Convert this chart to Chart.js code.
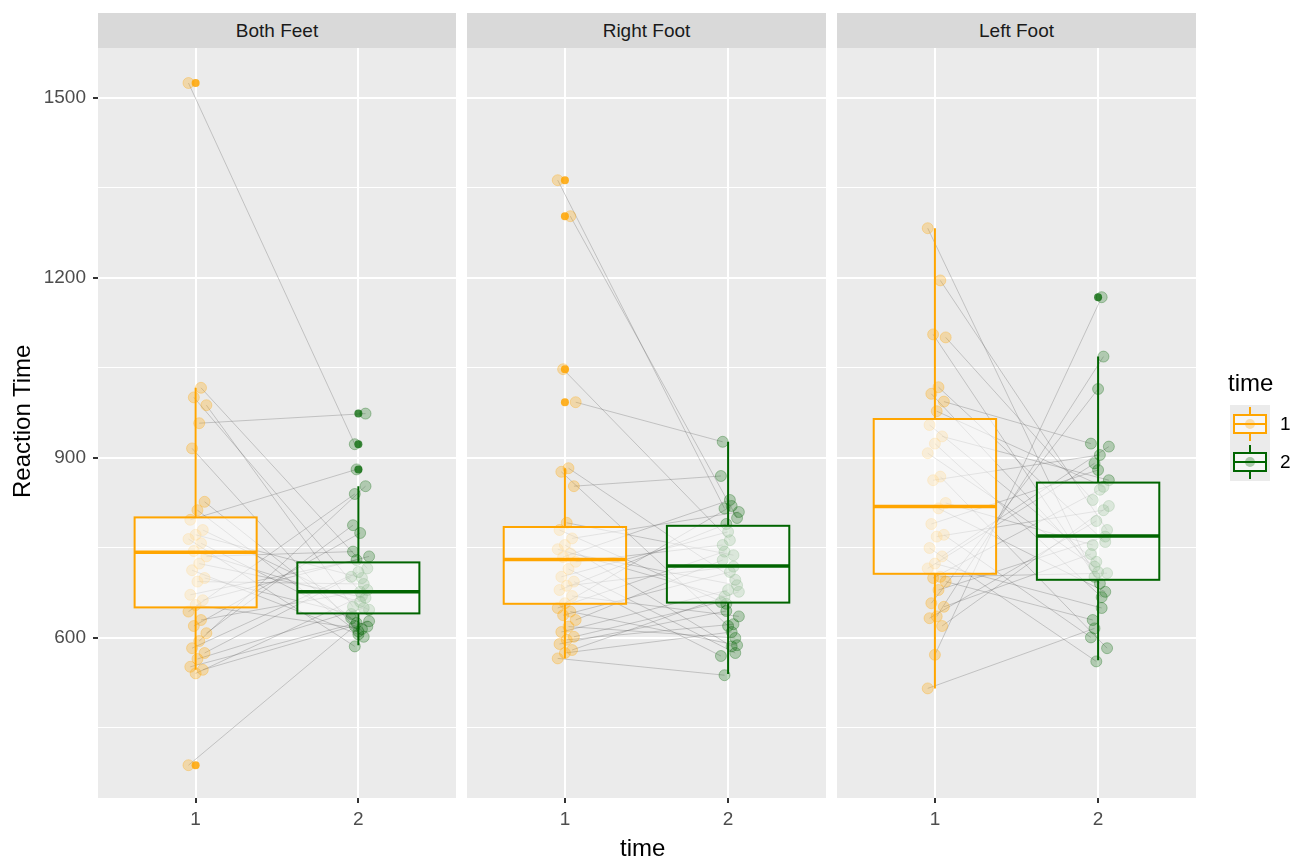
<!DOCTYPE html>
<html>
<head>
<meta charset="utf-8">
<script src="https://cdn.jsdelivr.net/npm/chart.js@4.4.1/dist/chart.umd.min.js"></script>
<style>
  body { margin: 0; background: #fff; width: 1303px; height: 861px; position: relative; overflow: hidden;
         font-family: 'Liberation Sans', Arial, sans-serif; }
  .strip { position: absolute; top: 13px; height: 35px; line-height: 35px; background: #d9d9d9;
           color: #1a1a1a; font-size: 19px; text-align: center; }
  canvas { position: absolute; top: 48px; }
  .title { position: absolute; font-size: 24px; color: #000; white-space: nowrap; }
  .lab { position: absolute; font-size: 19px; color: #000; }
</style>
</head>
<body>
<div class="strip" style="left:98px;width:358px">Both Feet</div>
<div class="strip" style="left:467px;width:359px">Right Foot</div>
<div class="strip" style="left:837px;width:359px">Left Foot</div>

<canvas id="c0" width="456" height="800" style="left:0px"></canvas>
<canvas id="c1" width="359" height="800" style="left:467px"></canvas>
<canvas id="c2" width="466" height="800" style="left:837px"></canvas>

<div class="title" style="left:-53px;top:409px;width:150px;text-align:center;transform:rotate(-90deg)">Reaction Time</div>
<div class="title" style="left:620px;top:834px">time</div>
<div class="title" style="left:1228px;top:369px">time</div>
<div class="lab" style="left:1280px;top:413px">1</div>
<div class="lab" style="left:1280px;top:451px">2</div>

<script>
// facets and groups
const panelNames = ['Both Feet', 'Right Foot', 'Left Foot'];
const timeLabels = ['1', '2'];

// paired reaction times (same index = same subject)
const bothT1 = [1525, 1017, 1001, 988, 958, 916, 827, 813, 797, 780, 772, 765, 758, 745, 736, 724, 713, 700, 694, 672, 663, 655, 644, 630, 620, 608, 595, 583, 575, 565, 552, 547, 541, 388];
const bothT2 = [923, 716, 677, 652, 974, 611, 633, 602, 881, 647, 700, 586, 619, 660, 744, 667, 606, 640, 690, 730, 736, 615, 840, 680, 775, 788, 853, 710, 702, 650, 625, 628, 670, 620];
const rightT1 = [1363, 1303, 1048, 993, 883, 877, 853, 792, 780, 766, 755, 748, 741, 735, 727, 715, 702, 694, 687, 680, 670, 658, 650, 644, 638, 630, 619, 610, 602, 597, 590, 580, 575, 566];
const rightT2 = [816, 800, 763, 927, 697, 620, 870, 738, 657, 810, 586, 669, 688, 830, 755, 575, 777, 570, 719, 790, 636, 820, 744, 588, 710, 730, 600, 680, 660, 623, 645, 677, 610, 538];
const leftT1 = [1283, 1196, 1106, 1101, 1018, 1007, 994, 978, 955, 936, 924, 908, 869, 863, 825, 816, 790, 772, 769, 750, 736, 724, 716, 702, 700, 694, 680, 658, 652, 636, 633, 620, 572, 516];
const leftT2 = [702, 780, 691, 830, 760, 710, 924, 852, 727, 863, 668, 719, 583, 905, 755, 677, 880, 601, 813, 561, 919, 650, 891, 708, 847, 630, 769, 1015, 740, 1069, 795, 820, 1168, 616];

// boxplot outliers per panel
const outT1 = [[1525, 388], [1363, 1303, 1048, 993], []];
const outT2 = [[974, 923, 881], [], [1168]];

// box stats per panel: [time1, time2]
const boxLow = [[547, 588], [566, 540], [516, 563]];
const boxQ1 = [[651, 641], [657, 659], [707, 697]];
const boxMed = [[743, 677], [731, 720], [819, 770]];
const boxQ3 = [[801, 726], [785, 787], [965, 859]];
const boxHigh = [[1017, 853], [883, 927], [1283, 1069]];

const yTicks = [450, 600, 750, 900, 1050, 1200, 1350, 1500];

const FONT = "'Liberation Sans', Arial, sans-serif";
const ORANGE = '#FFA500';
const GREEN = '#006400';

// small fixed horizontal jitter, in x units
function jit(k) {
    return ((k * 7) % 11 - 4) * 0.011;
}

// panel background
const panelBg = {
    id: 'panelBg',
    beforeDraw(chart) {
        const { ctx, chartArea: a } = chart;
        ctx.save();
        ctx.fillStyle = '#ebebeb';
        ctx.fillRect(a.left, a.top, a.right - a.left, a.bottom - a.top);
        ctx.restore();
    }
};

// boxplots drawn on top of points and lines
const boxes = {
    id: 'boxes',
    afterDatasetsDraw(chart, args, opts) {
        const p = opts.panel;
        const { ctx, scales: { x, y } } = chart;
        [ORANGE, GREEN].forEach((col, t) => {
            const cx = t + 1;
            const l = x.getPixelForValue(cx - 0.375);
            const r = x.getPixelForValue(cx + 0.375);
            const xm = x.getPixelForValue(cx);
            const q1 = y.getPixelForValue(boxQ1[p][t]);
            const q3 = y.getPixelForValue(boxQ3[p][t]);
            const md = y.getPixelForValue(boxMed[p][t]);
            const lo = y.getPixelForValue(boxLow[p][t]);
            const hi = y.getPixelForValue(boxHigh[p][t]);
            ctx.save();
            ctx.strokeStyle = col;
            ctx.lineWidth = 2;
            ctx.beginPath();
            ctx.moveTo(xm, hi); ctx.lineTo(xm, q3);
            ctx.moveTo(xm, q1); ctx.lineTo(xm, lo);
            ctx.stroke();
            ctx.fillStyle = 'rgba(255,255,255,0.55)';
            ctx.fillRect(l, q3, r - l, q1 - q3);
            ctx.strokeRect(l, q3, r - l, q1 - q3);
            ctx.lineWidth = 3.5;
            ctx.beginPath();
            ctx.moveTo(l, md); ctx.lineTo(r, md);
            ctx.stroke();
            ctx.restore();
        });
    }
};

// legend key glyphs (canvas of the third panel)
const legendKeys = {
    id: 'legendKeys',
    afterDraw(chart) {
        const ctx = chart.ctx;
        ctx.save();
        ctx.fillStyle = '#ebebeb';
        ctx.fillRect(393, 357, 40, 76);
        [[ORANGE, 376, 'rgba(255,165,0,0.3)'], [GREEN, 414, 'rgba(0,100,0,0.3)']].forEach(([col, cy, pc]) => {
            ctx.fillStyle = 'rgba(255,255,255,0.55)';
            ctx.fillRect(397, cy - 9, 32, 18);
            ctx.fillStyle = pc;
            ctx.beginPath(); ctx.arc(413, cy, 5, 0, Math.PI * 2); ctx.fill();
            ctx.strokeStyle = col;
            ctx.lineWidth = 2;
            ctx.strokeRect(397, cy - 9, 32, 18);
            ctx.beginPath();
            ctx.moveTo(413, cy - 17); ctx.lineTo(413, cy - 9);
            ctx.moveTo(413, cy + 9); ctx.lineTo(413, cy + 17);
            ctx.moveTo(397, cy); ctx.lineTo(429, cy);
            ctx.stroke();
        });
        ctx.restore();
    }
};

function makePanel(p, id, t1, t2) {
    const first = p === 0;
    const pairs = [];
    t1.forEach((v, k) => {
        pairs.push({ x: 1 + jit(k), y: v }, { x: 2 + jit(k + 5), y: t2[k] }, { x: 1.5, y: null });
    });
    const plugins = [panelBg, boxes];
    if (p === 2) plugins.push(legendKeys);

    new Chart(document.getElementById(id), {
        type: 'scatter',
        data: {
            datasets: [
                {
                    type: 'line', data: pairs, order: 4,
                    borderColor: 'rgba(95,95,95,0.3)', borderWidth: 1,
                    pointRadius: 0, spanGaps: false, tension: 0
                },
                {
                    label: timeLabels[0], data: t1.map((v, k) => ({ x: 1 + jit(k), y: v })), order: 3,
                    pointRadius: 5.5, backgroundColor: 'rgba(255,165,0,0.28)', borderColor: 'rgba(255,165,0,0.3)', borderWidth: 1
                },
                {
                    label: timeLabels[1], data: t2.map((v, k) => ({ x: 2 + jit(k + 5), y: v })), order: 2,
                    pointRadius: 5.5, backgroundColor: 'rgba(0,100,0,0.25)', borderColor: 'rgba(0,100,0,0.3)', borderWidth: 1
                },
                {
                    data: outT1[p].map(v => ({ x: 1, y: v })), order: 1,
                    pointRadius: 4, backgroundColor: 'rgba(255,165,0,0.85)', borderWidth: 0
                },
                {
                    data: outT2[p].map(v => ({ x: 2, y: v })), order: 1,
                    pointRadius: 4, backgroundColor: 'rgba(0,100,0,0.75)', borderWidth: 0
                }
            ]
        },
        options: {
            responsive: false,
            animation: false,
            devicePixelRatio: 1,
            events: [],
            layout: { autoPadding: false, padding: { left: 0, top: 0, bottom: 0, right: p === 2 ? 107 : 0 } },
            plugins: {
                legend: { display: false },
                tooltip: { enabled: false },
                boxes: { panel: p }
            },
            scales: {
                x: {
                    type: 'linear', min: 0.4, max: 2.6,
                    afterBuildTicks: s => { s.ticks = [{ value: 1 }, { value: 2 }]; },
                    afterFit: s => { s.height = 50; s.paddingLeft = 0; s.paddingRight = 0; },
                    border: { display: false },
                    grid: { color: '#ffffff', lineWidth: 2, tickColor: '#333333', tickLength: 5, tickWidth: 2 },
                    ticks: { color: '#4d4d4d', font: { family: FONT, size: 19 }, padding: 5, maxRotation: 0,
                             callback: v => String(v) }
                },
                y: {
                    type: 'linear', min: 333.33, max: 1583.33,
                    afterBuildTicks: s => { s.ticks = yTicks.map(v => ({ value: v })); },
                    afterFit: s => { s.width = first ? 98 : 0; s.paddingTop = 0; s.paddingBottom = 0; },
                    border: { display: false },
                    grid: {
                        color: '#ffffff',
                        lineWidth: c => (c.tick && c.tick.value % 300 === 0) ? 2 : 1,
                        drawTicks: first,
                        tickLength: 5,
                        tickWidth: 2,
                        tickColor: c => (c.tick && c.tick.value % 300 === 0) ? '#333333' : 'rgba(0,0,0,0)'
                    },
                    ticks: {
                        display: first,
                        color: '#4d4d4d', font: { family: FONT, size: 19 }, padding: 7,
                        callback: v => (v % 300 === 0 ? String(v) : '')
                    }
                }
            }
        },
        plugins: plugins
    });
}

makePanel(0, 'c0', bothT1, bothT2);
makePanel(1, 'c1', rightT1, rightT2);
makePanel(2, 'c2', leftT1, leftT2);
</script>
</body>
</html>
